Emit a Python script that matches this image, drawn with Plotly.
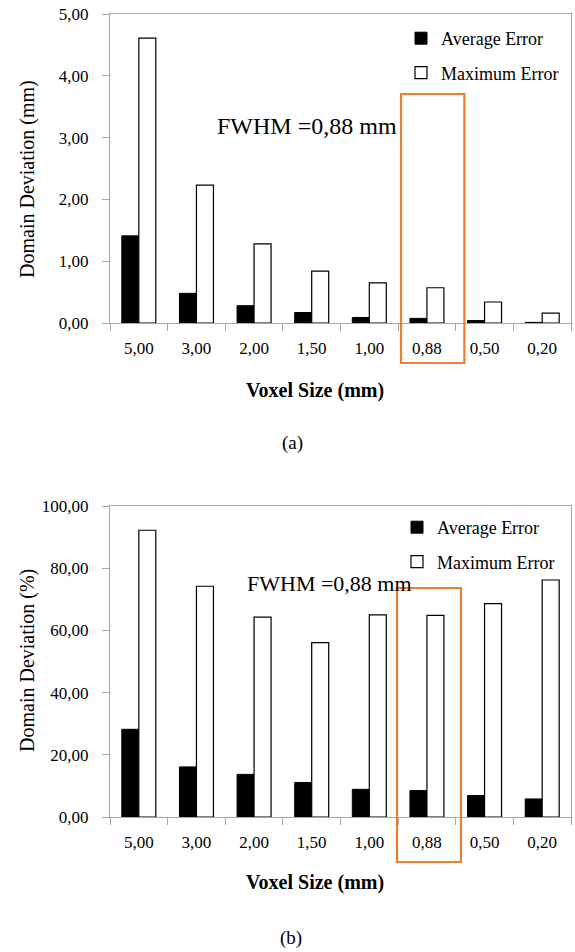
import plotly.graph_objects as go

# ---------------- data ----------------
voxel_sizes = ["5,00", "3,00", "2,00", "1,50", "1,00", "0,88", "0,50", "0,20"]
avg_err_mm = [1.41, 0.48, 0.28, 0.17, 0.09, 0.075, 0.04, 0.01]
max_err_mm = [4.61, 2.23, 1.28, 0.84, 0.65, 0.57, 0.34, 0.16]
avg_err_pct = [28.2, 16.1, 13.7, 11.1, 8.9, 8.5, 6.9, 5.8]
max_err_pct = [92.2, 74.2, 64.3, 56.1, 65.0, 64.8, 68.6, 76.2]
highlight = "0,88"
fwhm_label = "FWHM =0,88 mm"

W, H = 575, 952
FONT = "'Liberation Serif', 'Times New Roman', 'DejaVu Serif', serif"
AXC = "#a6a6a6"
ORANGE = "#ED7D31"


def px(x):
    return x / W


def py(y):
    return 1 - y / H


fig = go.Figure()

for xa, ya, lg, avg, mx in [("x", "y", "legend", avg_err_mm, max_err_mm),
                            ("x2", "y2", "legend2", avg_err_pct, max_err_pct)]:
    fig.add_trace(go.Bar(x=voxel_sizes, y=avg, name="Average Error", xaxis=xa, yaxis=ya,
                         legend=lg, legendgroup=lg + "a",
                         marker=dict(color="black", line=dict(color="black", width=1))))
    fig.add_trace(go.Bar(x=voxel_sizes, y=mx, name="Maximum Error", xaxis=xa, yaxis=ya,
                         legend=lg, legendgroup=lg + "b",
                         marker=dict(color="white", line=dict(color="black", width=1.2))))

tickfont = dict(family=FONT, size=17, color="black")
xcommon = dict(type="category", showline=True, mirror=True, linecolor=AXC, linewidth=1,
               ticks="outside", tickson="boundaries", ticklen=7, tickcolor=AXC,
               tickfont=tickfont, ticklabelstandoff=10, showgrid=False, fixedrange=True,
               automargin=False)
ycommon = dict(showline=True, mirror=True, linecolor=AXC, linewidth=1, ticks="outside",
               ticklen=7, tickcolor=AXC, tickfont=tickfont, tickformat=".2f",
               ticklabelstandoff=10, showgrid=False, zeroline=False, fixedrange=True,
               automargin=False)

xdom = [px(110), px(571)]
fig.update_layout(
    width=W, height=H, margin=dict(l=0, r=0, t=0, b=0, pad=0, autoexpand=False),
    paper_bgcolor="white", plot_bgcolor="white",
    separators=",.", barmode="group", bargap=0.41, bargroupgap=0,
    font=dict(family=FONT, color="black"),
    xaxis=dict(domain=xdom, anchor="y", **xcommon),
    yaxis=dict(domain=[py(323), py(14)], anchor="x", range=[0, 5], dtick=1, **ycommon),
    xaxis2=dict(domain=xdom, anchor="y2", **xcommon),
    yaxis2=dict(domain=[py(817), py(506)], anchor="x2", range=[0, 100], dtick=20, **ycommon),
    legend=dict(x=px(401), y=py(20), xanchor="left", yanchor="top", bgcolor="rgba(0,0,0,0)",
                font=dict(family=FONT, size=18, color="black"), tracegroupgap=8,
                traceorder="grouped"),
    legend2=dict(x=px(397), y=py(509), xanchor="left", yanchor="top", bgcolor="rgba(0,0,0,0)",
                 font=dict(family=FONT, size=18, color="black"), tracegroupgap=8,
                 traceorder="grouped"),
    showlegend=True,
)

ann = []
def A(text, x, y, size, angle=0):
    ann.append(dict(text=text, x=px(x), y=py(y), xref="paper", yref="paper",
                    xanchor="center", yanchor="middle", showarrow=False, textangle=angle,
                    font=dict(family=FONT, size=size, color="black")))

A("<b>Voxel Size (mm)</b>", 315, 390, 20)
A("Domain Deviation (mm)", 27, 179, 20, -90)
A("(a)", 292, 443, 19)
A(fwhm_label, 307, 126, 24)
A("<b>Voxel Size (mm)</b>", 315, 882, 20)
A("Domain Deviation (%)", 27, 661, 20, -90)
A("(b)", 291, 938, 19)
A(fwhm_label, 329, 583, 22)
fig.update_layout(annotations=ann)

# highlight rectangles around the FWHM voxel size
hi = voxel_sizes.index(highlight)
fig.add_shape(type="rect", xref="x", yref="paper", x0=hi - 0.45, x1=hi + 0.65,
              y0=py(363), y1=py(94), line=dict(color=ORANGE, width=2.2))
fig.add_shape(type="rect", xref="x2", yref="paper", x0=hi - 0.52, x1=hi + 0.59,
              y0=py(862), y1=py(588), line=dict(color=ORANGE, width=2.2))

fig.write_html(
    "out.html",
    config={"displayModeBar": False, "staticPlot": True},
    post_script=(
        "document.documentElement.style.margin='0';"
        "document.body.style.margin='0';"
        "document.body.style.overflow='hidden';"
        "var d=document.getElementById('{plot_id}');"
        "d.style.position='fixed';d.style.top='0px';d.style.left='0px';"
    ),
)
